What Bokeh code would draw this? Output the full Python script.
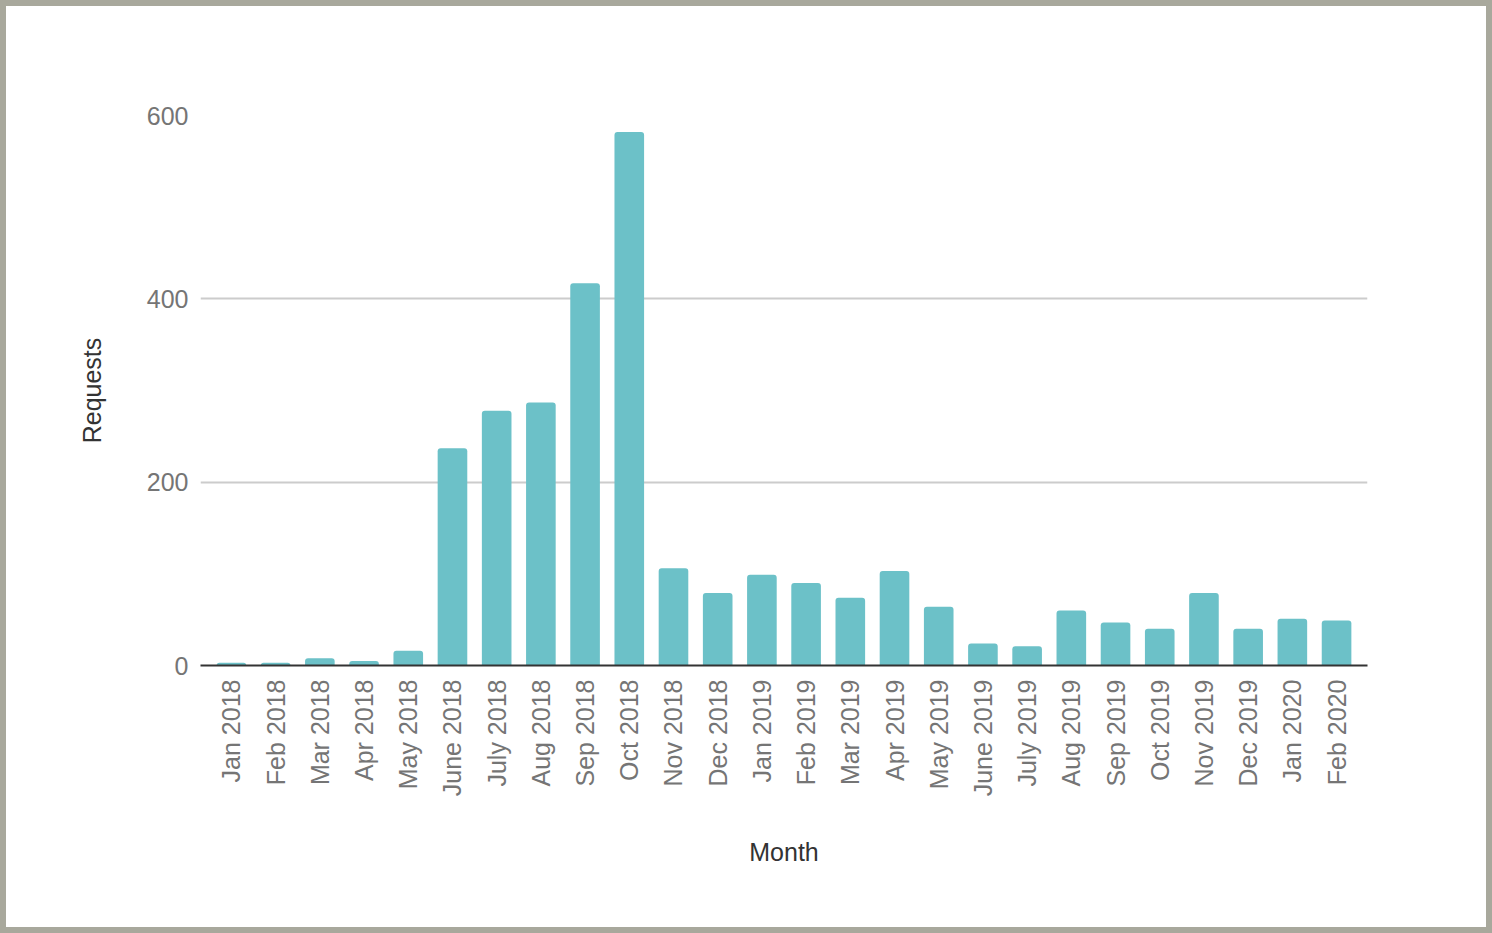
from bokeh.plotting import figure
from bokeh.models import FactorRange, SingleIntervalTicker
from bokeh.embed import file_html
from bokeh.resources import INLINE
import numpy as np

# Data
months = ["Jan 2018", "Feb 2018", "Mar 2018", "Apr 2018", "May 2018", "June 2018",
          "July 2018", "Aug 2018", "Sep 2018", "Oct 2018", "Nov 2018", "Dec 2018",
          "Jan 2019", "Feb 2019", "Mar 2019", "Apr 2019", "May 2019", "June 2019",
          "July 2019", "Aug 2019", "Sep 2019", "Oct 2019", "Nov 2019", "Dec 2019",
          "Jan 2020", "Feb 2020"]
requests = [3, 3, 8, 5, 16, 237,
            278, 287, 417, 582, 106, 79,
            99, 90, 74, 103, 64, 24,
            21, 60, 47, 40, 79, 40,
            51, 49]

FONT = "Liberation Sans"

p = figure(width=1492, height=933, output_backend="svg", toolbar_location=None,
           x_range=FactorRange(*months, range_padding=0.2, range_padding_units="absolute"),
           y_range=(0, 600),
           min_border_left=194, min_border_right=131, min_border_top=109, min_border_bottom=274)
p.styles = {"border": "6px solid #a8a89c"}
p.outline_line_color = None

p.vbar(x=months, top=requests, width=0.67, fill_color="#6cc1c8", line_color=None,
       border_radius=(3, 3, 0, 0))

# axes
p.yaxis.ticker = SingleIntervalTicker(interval=200)
p.yaxis.axis_line_color = None
p.yaxis.major_tick_line_color = None
p.yaxis.minor_tick_line_color = None
p.yaxis.major_label_standoff = 6
p.yaxis.axis_label = "Requests"
p.yaxis.axis_label_standoff = 38

p.xaxis.axis_line_color = "#333333"
p.xaxis.axis_line_width = 2
p.xaxis.major_tick_line_color = None
p.xaxis.major_label_orientation = np.pi / 2
p.xaxis.major_label_standoff = 8
p.xaxis.axis_label = "Month"
p.xaxis.axis_label_standoff = 39

for ax in (p.xaxis, p.yaxis):
    ax.major_label_text_font = FONT
    ax.major_label_text_font_size = "25px"
    ax.major_label_text_color = "#757575"
    ax.axis_label_text_font = FONT
    ax.axis_label_text_font_size = "25px"
    ax.axis_label_text_font_style = "normal"
    ax.axis_label_text_color = "#333333"

p.xgrid.grid_line_color = None
p.ygrid.grid_line_color = "#cccccc"
p.ygrid.grid_line_width = 2

open("out.html", "w").write(file_html(p, INLINE))
